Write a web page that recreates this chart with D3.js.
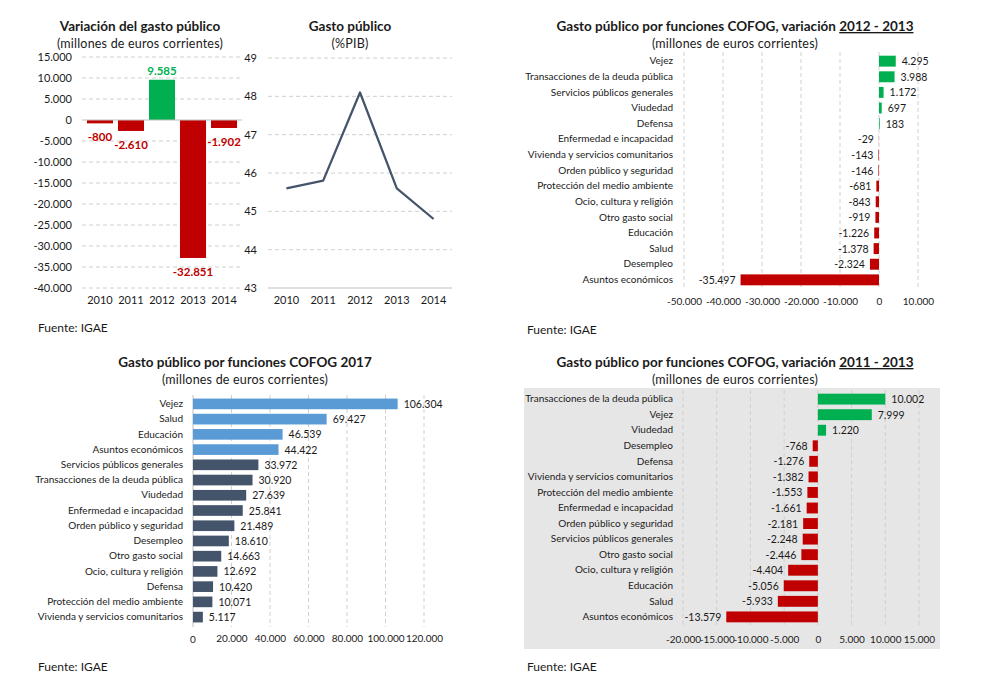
<!DOCTYPE html>
<html>
<head>
<meta charset="utf-8">
<script src="https://cdn.jsdelivr.net/npm/d3@7"></script>
<style>
  body { margin: 0; background: #fff; }
  svg text { font-family: Lato, "Open Sans", sans-serif; fill: #1a1a1a; }
</style>
</head>
<body>
<svg id="chart" width="984" height="696"></svg>
<script>
// ---- data ----
const years = ["2010", "2011", "2012", "2013", "2014"];
const variacionGasto = [-800, -2610, 9585, -32851, -1902];
const gastoPIB = [45.6, 45.8, 48.1, 45.6, 44.8];

const cofog1213Cats = ["Vejez", "Transacciones de la deuda pública", "Servicios públicos generales", "Viudedad", "Defensa",
  "Enfermedad e incapacidad", "Vivienda y servicios comunitarios", "Orden público y seguridad", "Protección del medio ambiente",
  "Ocio, cultura y religión", "Otro gasto social", "Educación", "Salud", "Desempleo", "Asuntos económicos"];
const cofog1213Vals = [4295, 3988, 1172, 697, 183, -29, -143, -146, -681, -843, -919, -1226, -1378, -2324, -35497];

const cofog2017Cats = ["Vejez", "Salud", "Educación", "Asuntos económicos", "Servicios públicos generales",
  "Transacciones de la deuda pública", "Viudedad", "Enfermedad e incapacidad", "Orden público y seguridad", "Desempleo",
  "Otro gasto social", "Ocio, cultura y religión", "Defensa", "Protección del medio ambiente", "Vivienda y servicios comunitarios"];
const cofog2017Vals = [106304, 69427, 46539, 44422, 33972, 30920, 27639, 25841, 21489, 18610, 14663, 12692, 10420, 10071, 5117];

const cofog1113Cats = ["Transacciones de la deuda pública", "Vejez", "Viudedad", "Desempleo", "Defensa",
  "Vivienda y servicios comunitarios", "Protección del medio ambiente", "Enfermedad e incapacidad", "Orden público y seguridad",
  "Servicios públicos generales", "Otro gasto social", "Ocio, cultura y religión", "Educación", "Salud", "Asuntos económicos"];
const cofog1113Vals = [10002, 7999, 1220, -768, -1276, -1382, -1553, -1661, -2181, -2248, -2446, -4404, -5056, -5933, -13579];

const green = "#00b050", red = "#c00000", blue = "#5b9bd5", slate = "#44546a";
const gridColor = "#d0d0d0";

const es = d3.formatLocale({ decimal: ",", thousands: ".", grouping: [3], currency: ["", " €"], minus: "-" });
const fmt = es.format(",d");

const svg = d3.select("#chart");

function titles(cx, y, main, sub, underlined) {
  const t = svg.append("text").attr("x", cx).attr("y", y).attr("text-anchor", "middle")
    .style("font-size", "13.5px").style("font-weight", "bold").text(main);
  if (underlined) t.append("tspan").style("text-decoration", "underline").text(underlined);
  svg.append("text").attr("x", cx).attr("y", y + 17).attr("text-anchor", "middle")
    .style("font-size", "12.5px").style("letter-spacing", "0.2px").text(sub);
}

function fuente(x, y) {
  svg.append("text").attr("x", x).attr("y", y).style("font-size", "12px").text("Fuente: IGAE");
}

// ---- panel 1: variación del gasto ----
{
  const x = d3.scaleBand().domain(years).range([82, 242]).padding(0.16);
  const y = d3.scaleLinear().domain([-40000, 15000]).range([288, 57]);
  const g = svg.append("g");
  g.selectAll("line.grid").data(d3.range(-40000, 15001, 5000).filter(d => d !== 0)).join("line")
    .attr("x1", 82).attr("x2", 242).attr("y1", d => y(d)).attr("y2", d => y(d))
    .attr("stroke", gridColor).attr("stroke-dasharray", "4,3");
  g.selectAll("rect").data(variacionGasto).join("rect")
    .attr("x", (d, i) => x(years[i])).attr("width", x.bandwidth())
    .attr("y", d => y(Math.max(d, 0))).attr("height", d => Math.abs(y(d) - y(0)))
    .attr("fill", d => d >= 0 ? green : red);
  g.append("line").attr("x1", 82).attr("x2", 242).attr("y1", y(0)).attr("y2", y(0)).attr("stroke", "#bfbfbf");
  const ya = g.append("g").attr("transform", "translate(80,0)")
    .call(d3.axisLeft(y).tickValues(d3.range(-40000, 15001, 5000)).tickFormat(fmt).tickSize(0).tickPadding(8));
  ya.select(".domain").remove();
  ya.selectAll("text").style("font-size", "11px");
  const xa = g.append("g").attr("transform", "translate(0,292)")
    .call(d3.axisBottom(x).tickSize(0).tickPadding(4));
  xa.select(".domain").remove();
  xa.selectAll("text").style("font-size", "11px");
  g.selectAll("text.val").data(variacionGasto).join("text").attr("class", "val")
    .attr("x", (d, i) => x(years[i]) + x.bandwidth() / 2)
    .attr("y", d => d >= 0 ? y(d) - 5 : y(d) + 18)
    .attr("text-anchor", "middle").style("font-size", "11.5px").style("font-weight", "bold")
    .style("fill", d => d >= 0 ? green : red).text(fmt);
  titles(140, 31, "Variación del gasto público", "(millones de euros corrientes)");
  fuente(38, 332);
}

// ---- panel 2: gasto público %PIB ----
{
  const x = d3.scaleBand().domain(years).range([268, 452]);
  const y = d3.scaleLinear().domain([43, 49]).range([288, 58]);
  const g = svg.append("g");
  g.selectAll("line.grid").data(d3.range(44, 49.5, 1)).join("line")
    .attr("x1", 268).attr("x2", 452).attr("y1", d => y(d)).attr("y2", d => y(d))
    .attr("stroke", gridColor).attr("stroke-dasharray", "4,3");
  g.append("line").attr("x1", 268).attr("x2", 452).attr("y1", y(43)).attr("y2", y(43)).attr("stroke", "#bfbfbf");
  const ya = g.append("g").attr("transform", "translate(259,0)")
    .call(d3.axisLeft(y).ticks(6).tickFormat(d3.format("d")).tickSize(0).tickPadding(2));
  ya.select(".domain").remove();
  ya.selectAll("text").style("font-size", "11px");
  const xa = g.append("g").attr("transform", "translate(0,292)")
    .call(d3.axisBottom(x).tickSize(0).tickPadding(4));
  xa.select(".domain").remove();
  xa.selectAll("text").style("font-size", "11px");
  const line = d3.line().x((d, i) => x(years[i]) + x.bandwidth() / 2).y(d => y(d));
  g.append("path").datum(gastoPIB).attr("d", line).attr("fill", "none")
    .attr("stroke", slate).attr("stroke-width", 2.25).attr("stroke-linejoin", "round");
  titles(350, 31, "Gasto público", "(%PIB)");
}

// ---- horizontal bar helper ----
function hbars(o) {
  const x = d3.scaleLinear().domain(o.domain).range(o.xRange);
  const y = d3.scaleBand().domain(o.cats).range(o.yRange).padding(0.3);
  const g = svg.append("g");
  if (o.bg) g.append("rect").attr("x", o.bg[0]).attr("y", o.bg[1]).attr("width", o.bg[2]).attr("height", o.bg[3]).attr("fill", "#e7e6e6");
  g.selectAll("line.grid").data(o.ticks).join("line")
    .attr("x1", d => x(d)).attr("x2", d => x(d)).attr("y1", o.yRange[0] + 1).attr("y2", o.yRange[1])
    .attr("stroke", o.bg ? "#cfcfcf" : gridColor).attr("stroke-dasharray", "4,3");
  if (o.zeroLine) g.append("line").attr("x1", x(0)).attr("x2", x(0)).attr("y1", o.yRange[0] + 1).attr("y2", o.yRange[1]).attr("stroke", "#bfbfbf");
  g.selectAll("rect.bar").data(o.vals).join("rect").attr("class", "bar")
    .attr("y", (d, i) => y(o.cats[i])).attr("height", y.bandwidth())
    .attr("x", d => x(Math.min(d, 0))).attr("width", d => Math.abs(x(d) - x(0)))
    .attr("fill", o.color);
  const ya = g.append("g").attr("transform", `translate(${o.labelX},0)`)
    .call(d3.axisLeft(y).tickSize(0).tickPadding(0));
  ya.select(".domain").remove();
  ya.selectAll("text").style("font-size", "10px");
  const xa = g.append("g").attr("transform", `translate(0,${o.axisY})`)
    .call(d3.axisBottom(x).tickValues(o.ticks).tickFormat(fmt).tickSize(0).tickPadding(0));
  xa.select(".domain").remove();
  xa.selectAll("text").style("font-size", "10px");
  g.selectAll("text.val").data(o.vals).join("text").attr("class", "val")
    .attr("x", d => d >= 0 ? x(d) + 6 : x(d) - 5)
    .attr("y", (d, i) => y(o.cats[i]) + y.bandwidth() / 2 + 4)
    .attr("text-anchor", d => d >= 0 ? "start" : "end")
    .style("font-size", "10.5px").text(fmt);
}

// ---- panel 3: variación 2012-2013 ----
hbars({
  cats: cofog1213Cats, vals: cofog1213Vals, domain: [-50000, 10000], xRange: [684, 918],
  yRange: [51, 290], ticks: d3.range(-50000, 10001, 10000), labelX: 673, axisY: 298,
  color: d => d >= 0 ? green : red
});
titles(735, 31, "Gasto público por funciones COFOG, variación ", "(millones de euros corrientes)", "2012 - 2013");
fuente(527, 334);

// ---- panel 4: 2017 ----
hbars({
  cats: cofog2017Cats, vals: cofog2017Vals, domain: [0, 120000], xRange: [193, 424],
  yRange: [394, 627], ticks: d3.range(20000, 120001, 20000), labelX: 183, axisY: 635,
  color: (d, i) => i < 4 ? blue : slate, zeroLine: true
});
svg.append("text").attr("x", 193).attr("y", 643).attr("text-anchor", "middle").style("font-size", "10px").text("0");
titles(245, 367, "Gasto público por funciones COFOG 2017", "(millones de euros corrientes)");
fuente(38, 671);

// ---- panel 5: variación 2011-2013 ----
hbars({
  cats: cofog1113Cats, vals: cofog1113Vals, domain: [-20000, 15000], xRange: [683, 919],
  yRange: [389, 627], ticks: d3.range(-20000, 15001, 5000), labelX: 673, axisY: 636,
  color: d => d >= 0 ? green : red, bg: [524, 388, 416, 261]
});
titles(735, 367, "Gasto público por funciones COFOG, variación ", "(millones de euros corrientes)", "2011 - 2013");
fuente(527, 671);
</script>
</body>
</html>
